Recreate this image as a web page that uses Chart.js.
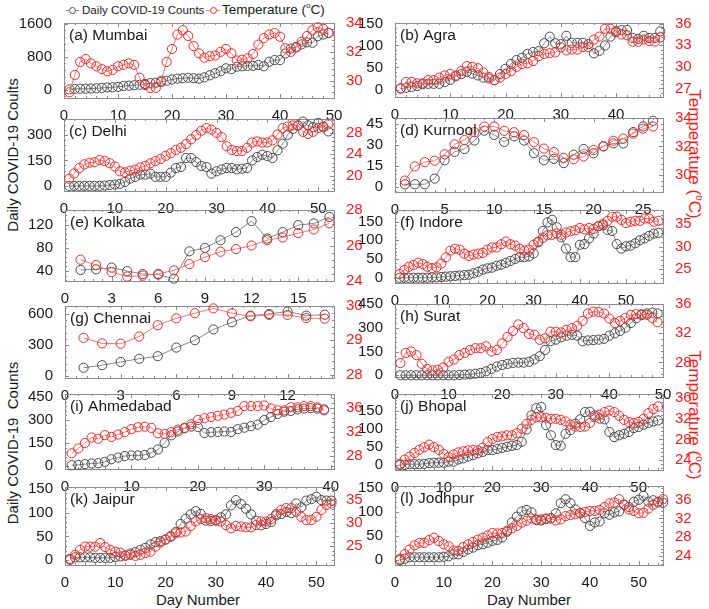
<!DOCTYPE html>
<html>
<head>
<meta charset="utf-8">
<script src="https://cdn.jsdelivr.net/npm/chart.js@4.4.1/dist/chart.umd.min.js"></script>
<style>
  body { margin: 0; background: #fff; }
  #page { position: relative; width: 709px; height: 609px; overflow: hidden;
          font-family: 'Liberation Sans', Arial, Helvetica, sans-serif; color: #1a1a1a; }
  #page canvas { position: absolute; }
  .txt { position: absolute; white-space: nowrap; line-height: 1; }
  .rot { transform: translate(-50%, -50%) rotate(-90deg); }
  .rotR { transform: translate(-50%, -50%) rotate(90deg); color: #ff1a1a; }
  .ctr { transform: translate(-50%, -50%); }
  sup { font-size: 0.6em; vertical-align: 0.7em; }
  .mline { position: absolute; height: 0; }
  .mdot { position: absolute; width: 5px; height: 5px; border-radius: 50%; background: #fff; }
</style>
</head>
<body>
<div id="page">
  <div class="mline" style="left:66px;top:10px;width:13px;border-top:1px solid #888"></div>
  <div class="mdot" style="left:69px;top:7px;border:1px solid #555"></div>
  <div class="txt" style="left:82px;top:4px;font-size:11.6px">Daily COVID-19 Counts</div>
  <div class="mline" style="left:206px;top:10px;width:14px;border-top:1px solid #f08080"></div>
  <div class="mdot" style="left:210px;top:7px;border:1px solid #ff2a2a"></div>
  <div class="txt" style="left:222px;top:2px;font-size:13.5px">Temperature (<sup>o</sup>C)</div>

  <div class="txt rot" style="left:12px;top:155px;font-size:15px">Daily COVID-19 Coults</div>
  <div class="txt rot" style="left:12px;top:443px;font-size:15px">Daily COVID-19&nbsp; Counts</div>
  <div class="txt rotR" style="left:695px;top:154px;font-size:17px">Temperature (<sup>o</sup>C)</div>
  <div class="txt rotR" style="left:695px;top:415px;font-size:17px">Temperature (<sup>o</sup>C)</div>
  <div class="txt ctr" style="left:198px;top:599px;font-size:15px">Day Number</div>
  <div class="txt ctr" style="left:529px;top:599px;font-size:15px">Day Number</div>
</div>
<script>
// ---- data (day 1..n) ----
const mumbaiCases = [10,20,25,25,30,35,45,55,60,70,90,100,110,120,140,160,170,190,220,250,270,280,290,280,270,300,350,400,450,520,500,560,570,580,580,600,570,680,720,720,880,1000,1040,1100,1150,1140,1300,1340,1380];
const mumbaiTemp = [29.2,30.4,31.3,31.5,31.2,31.0,30.8,30.65,30.75,31.0,31.1,31.2,31.1,30.2,29.7,29.5,29.5,30.0,31.3,32.2,33.2,33.5,33.1,32.4,31.9,31.6,31.7,31.75,32.0,32.2,31.9,31.4,31.45,31.55,31.85,32.5,32.95,33.2,33.3,33.05,32.25,32.0,32.3,32.7,33.1,33.5,33.7,33.6,33.3];

const agraCases = [2,4,6,8,12,13,13,13,17,22,30,35,40,36,32,27,25,21,35,47,58,67,72,81,85,87,105,120,105,103,122,106,106,106,103,82,88,100,120,130,135,135,117,115,122,117,117,132];
const agraTemp = [27.0,27.9,27.9,27.7,27.7,28.15,28.15,28.5,28.8,29.0,28.8,29.4,30.1,30.0,29.8,29.2,28.6,28.15,28.5,29.0,29.4,30.0,30.4,30.5,30.8,31.5,31.8,31.9,32.0,32.7,32.3,32.4,32.4,32.75,32.75,33.8,34.2,35.3,35.3,35.0,34.5,34.4,33.5,33.5,33.8,33.6,33.5,34.1];

const delhiCases = [0,0,0,0,0,0,0,2,5,8,12,23,43,53,66,66,72,53,53,53,78,105,111,164,164,140,117,111,72,86,97,105,105,97,101,105,150,170,183,175,164,209,248,300,335,355,378,355,345,370,345,320];
const delhiTemp = [19.4,20.4,21.4,22.1,22.4,22.5,22.9,22.7,22.3,21.7,20.8,20.6,20.9,21.1,21.5,21.8,22.3,22.7,23.1,23.7,24.2,24.8,25.2,25.9,26.8,27.6,28.4,28.9,28.6,28.0,27.2,25.5,24.8,24.6,24.6,25.2,26.2,26.4,26.2,26.2,26.6,27.7,28.9,29.2,29.4,29.4,28.2,27.8,28.2,28.9,29.2,29.6];

const kurnoolCases = [2,2,2,6,19,25,27,33,40,37,32,36,33,24,19,20,17,23,27,24,29,31,31,39,43,47];
const kurnoolTemp = [29.6,30.6,30.9,31.0,31.45,32.15,32.45,33.0,33.4,33.4,33.1,33.0,32.8,32.3,31.85,31.6,31.2,31.1,31.3,31.75,32.0,32.4,32.55,32.9,33.25,33.4];

const kolkataCases = [42,43,46,40,35,34,27,74,80,93,107,126,96,107,119,122,133];
const kolkataTemp = [25.2,24.9,24.5,24.25,24.3,24.4,24.6,24.95,25.35,25.65,25.8,26.0,26.3,26.45,26.7,26.9,27.25];

const indoreCases = [0,0,0,0,0,0,0,1,1,2,3,4,5,6,7,8,12,16,22,25,27,32,35,40,45,50,55,55,57,65,95,125,148,155,135,108,78,55,55,88,90,105,118,138,140,128,125,90,78,84,86,92,100,105,112,118,120];
const indoreTemp = [23.9,24.8,25.5,25.9,26.4,26.1,25.5,25.2,25.4,26.2,27.6,29.1,29.5,29.3,28.4,27.9,28.2,28.4,28.6,29.3,29.8,29.8,30.5,31.1,30.5,30.2,29.5,29.1,29.3,30.4,31.1,31.9,32.5,32.6,32.9,32.6,33.1,33.4,33.6,34.1,33.8,34.1,33.9,34.5,35.0,35.7,36.6,36.6,35.9,35.2,35.5,35.7,35.7,36.2,36.2,35.5,35.7];

const chennaiCases = [80,105,136,167,192,275,346,451,520,584,600,624,584,593];
const chennaiTemp = [29.07,28.91,28.9,29.11,29.44,29.64,29.79,29.93,29.79,29.7,29.74,29.74,29.65,29.63];

const suratCases = [0,0,0,0,0,0,0,0,0,0,0,2,4,6,10,15,25,40,55,65,72,78,80,80,85,100,120,160,215,225,240,250,255,250,215,220,222,225,230,250,265,280,300,330,360,380,390,395,390];
const suratTemp = [27.9,29.3,29.5,29.0,27.8,27.1,26.9,27.0,27.3,28.1,28.4,29.0,29.3,29.7,29.95,29.95,30.2,29.5,29.7,30.6,31.5,32.3,33.2,32.7,31.9,31.8,31.1,31.3,32.2,32.2,32.1,32.45,32.7,33.0,33.7,34.7,34.95,34.9,34.7,34.0,33.4,33.7,34.1,34.5,34.6,34.6,34.5,34.1,33.5];

const ahmedabadCases = [4,6,11,15,17,26,43,54,64,68,68,71,86,107,150,200,225,246,257,255,215,220,222,225,222,240,250,260,270,300,320,340,355,360,370,375,378,375,370];
const ahmedabadTemp = [28.5,29.3,30.2,31.1,30.9,31.5,31.2,31.6,32.0,32.5,32.8,32.9,32.7,31.8,31.7,32.0,32.4,32.7,33.3,34.0,34.3,34.5,34.7,34.9,35.2,35.5,36.3,36.3,36.3,36.4,35.9,35.6,35.6,36.1,36.1,36.3,36.3,36.1,35.6];

const bhopalCases = [0,0,2,2,2,3,5,6,6,6,9,9,15,18,23,27,32,36,41,41,44,47,50,53,55,64,98,137,157,160,110,82,55,53,86,96,114,126,146,147,137,128,126,91,77,82,86,91,102,105,111,116,120,123];
const bhopalTemp = [23.3,24.1,24.7,25.4,26.0,26.5,27.0,26.5,26.0,25.2,24.6,25.1,25.5,25.7,25.9,26.0,25.9,26.4,27.5,28.1,28.5,28.6,28.8,28.8,29.2,30.1,31.0,31.8,32.3,32.3,32.2,32.0,32.0,31.8,31.5,30.9,30.5,30.4,30.5,31.2,32.3,32.8,33.3,33.6,33.3,32.6,31.8,31.4,31.2,31.4,32.0,33.1,33.9,34.4];

const jaipurCases = [3,6,6,6,6,5,5,5,5,7,8,10,14,17,22,26,33,38,40,43,49,59,76,87,96,103,97,83,82,83,90,96,115,126,118,108,96,83,73,76,80,94,97,101,99,119,111,125,128,133,126,125,125];
const jaipurTemp = [22.0,23.1,24.2,24.9,24.9,24.9,25.7,24.8,24.2,23.8,23.6,22.9,23.1,22.9,23.1,23.5,23.8,24.9,25.8,26.5,27.2,27.8,28.0,28.2,29.4,30.4,30.9,31.1,30.9,30.7,30.4,29.6,28.9,29.4,29.3,29.1,29.1,29.6,30.4,30.4,30.9,32.0,32.9,33.3,33.3,32.5,31.4,30.7,30.7,31.4,32.9,34.0,34.3];

const jodhpurCases = [0,3,6,6,6,6,6,6,6,7,8,12,12,17,22,26,31,33,36,40,42,47,59,78,90,101,104,99,83,82,85,87,97,118,126,118,105,97,87,71,78,80,97,94,99,101,115,110,121,125,133,121,124,121,119];
const jodhpurTemp = [23.4,24.4,25.4,26.3,26.8,26.8,27.4,27.9,27.2,26.5,26.1,25.2,25.1,25.9,26.5,27.0,27.5,27.9,28.4,28.9,28.8,28.9,29.4,29.9,30.4,31.1,31.5,32.0,31.8,31.8,32.0,32.0,31.6,31.8,32.5,32.7,32.9,33.2,33.4,33.6,33.6,33.8,34.4,35.2,35.4,36.1,34.9,33.9,33.6,33.1,33.2,34.1,34.9,35.4,36.1];

// ---- tick labels ----
const dayTicks10 = [0,10,20,30,40,50];
const dayTicks40 = [0,10,20,30,40];
const dayTicks5 = [0,5,10,15,20,25];
const dayTicks3 = [0,3,6,9,12,15];
const dayTicks3s = [0,3,6,9,12];

const mumbaiCaseTicks = [0,800,1600];   const mumbaiTempTicks = [30,32,34];
const agraCaseTicks = [0,50,100,150];   const agraTempTicks = [27,30,33,36];
const delhiCaseTicks = [0,150,300];     const delhiTempTicks = [20,24,28];
const kurnoolCaseTicks = [0,15,30,45];  const kurnoolTempTicks = [30,32,34];
const kolkataCaseTicks = [40,80,120];   const kolkataTempTicks = [24,26,28];
const indoreCaseTicks = [0,50,100,150]; const indoreTempTicks = [25,30,35];
const chennaiCaseTicks = [0,300,600];   const chennaiTempTicks = [28,29,30];
const suratCaseTicks = [0,150,300,450]; const suratTempTicks = [28,32,36];
const ahmedabadCaseTicks = [0,150,300,450]; const ahmedabadTempTicks = [28,32,36];
const bhopalCaseTicks = [0,50,100,150]; const bhopalTempTicks = [24,28,32,36];
const jaipurCaseTicks = [0,50,100,150]; const jaipurTempTicks = [25,30,35];
const jodhpurCaseTicks = [0,50,100,150]; const jodhpurTempTicks = [24,28,32,36];

// ---- panel layout: plot box [left, top, right, bottom] and axis ranges ----
const panels = [
  { title: '(a) Mumbai', cases: mumbaiCases, temp: mumbaiTemp, box: [64, 22, 334, 98],
    x: [0, 50], xt: dayTicks10, yl: [-200, 1620], ylt: mumbaiCaseTicks, yr: [28.8, 34], yrt: mumbaiTempTicks },
  { title: '(b) Agra', cases: agraCases, temp: agraTemp, box: [395, 22, 663, 97],
    x: [0, 48.5], xt: dayTicks40, yl: [-17, 151], ylt: agraCaseTicks, yr: [25.8, 36.1], yrt: agraTempTicks },
  { title: '(c) Delhi', cases: delhiCases, temp: delhiTemp, box: [64, 118, 334, 191],
    x: [0, 53.1], xt: dayTicks10, yl: [-30, 393], ylt: delhiCaseTicks, yr: [17.1, 30.6], yrt: delhiTempTicks },
  { title: '(d) Kurnool', cases: kurnoolCases, temp: kurnoolTemp, box: [395, 117, 663, 192],
    x: [0, 27], xt: dayTicks5, yl: [-3.5, 49], ylt: kurnoolCaseTicks, yr: [28.8, 34], yrt: kurnoolTempTicks },
  { title: '(e) Kolkata', cases: kolkataCases, temp: kolkataTemp, box: [65, 209, 334, 281],
    x: [0, 17.3], xt: dayTicks3, yl: [23, 145], ylt: kolkataCaseTicks, yr: [24, 28], yrt: kolkataTempTicks },
  { title: '(f) Indore', cases: indoreCases, temp: indoreTemp, box: [395, 209, 663, 283],
    x: [0, 58], xt: dayTicks10, yl: [-14, 181], ylt: indoreCaseTicks, yr: [21.9, 38.1], yrt: indoreTempTicks },
  { title: '(g) Chennai', cases: chennaiCases, temp: chennaiTemp, box: [65, 305, 334, 378],
    x: [0, 14.5], xt: dayTicks3s, yl: [-19, 677], ylt: chennaiCaseTicks, yr: [27.9, 30], yrt: chennaiTempTicks },
  { title: '(h) Surat', cases: suratCases, temp: suratTemp, box: [395, 303, 663, 377],
    x: [0, 50], xt: dayTicks10, yl: [-11, 450], ylt: suratCaseTicks, yr: [26, 36], yrt: suratTempTicks },
  { title: '(i) Ahmedabad', cases: ahmedabadCases, temp: ahmedabadTemp, box: [65, 393, 334, 469],
    x: [0, 40.5], xt: dayTicks40, yl: [-21, 471], ylt: ahmedabadCaseTicks, yr: [25.9, 38.3], yrt: ahmedabadTempTicks },
  { title: '(j) Bhopal', cases: bhopalCases, temp: bhopalTemp, box: [395, 393, 663, 470],
    x: [0, 55], xt: dayTicks10, yl: [-14, 196], ylt: bhopalCaseTicks, yr: [22.1, 36.8], yrt: bhopalTempTicks },
  { title: '(k) Jaipur', cases: jaipurCases, temp: jaipurTemp, box: [65, 486, 334, 565],
    x: [0, 53.5], xt: dayTicks10, yl: [-10, 153.5], ylt: jaipurCaseTicks, yr: [20.9, 37.9], yrt: jaipurTempTicks },
  { title: '(l) Jodhpur', cases: jodhpurCases, temp: jodhpurTemp, box: [395, 485, 663, 565],
    x: [0, 55], xt: dayTicks10, yl: [-10, 153.5], ylt: jodhpurCaseTicks, yr: [22.1, 38.9], yrt: jodhpurTempTicks }
];

const FONT = "'Liberation Sans', Arial, Helvetica, sans-serif";
const DOT_GRAY = '#4a4a4a', LINE_GRAY = '#8a8a8a';
const DOT_RED = '#ff2626', LINE_RED = '#f07a7a';
const FRAME = '#8c8c8c';
const PAD_L = 60, PAD_R = 40, PAD_T = 12, PAD_B = 24;

function useTicks(vals) {
  return scale => { scale.ticks = vals.map(v => ({ value: v })); };
}
const plain = v => String(v);

// frame with inward tick marks, plus the panel name
function panelDecor(title) {
  return {
    id: 'panelDecor',
    beforeDatasetsDraw(chart) {
      const a = chart.chartArea, ctx = chart.ctx;
      const sx = chart.scales.x, sl = chart.scales.yl, sr = chart.scales.yr;
      ctx.save();
      ctx.strokeStyle = FRAME;
      ctx.lineWidth = 1;
      ctx.strokeRect(Math.round(a.left) + 0.5, Math.round(a.top) + 0.5,
                     Math.round(a.right - a.left), Math.round(a.bottom - a.top));
      const marks = (scale, vals, draw) => {
        const step = vals[1] - vals[0];
        for (let v = vals[0] - step; v <= scale.max + 1e-9; v += step / 5) {
          if (v < scale.min - 1e-9) continue;
          const major = Math.abs((v - vals[0]) / step - Math.round((v - vals[0]) / step)) < 1e-6;
          draw(Math.round(scale.getPixelForValue(v)) + 0.5, major ? 4 : 2);
        }
      };
      ctx.beginPath();
      marks(sx, sx.ticks.map(t => t.value), (px, len) => {
        ctx.moveTo(px, a.bottom); ctx.lineTo(px, a.bottom - len);
        ctx.moveTo(px, a.top); ctx.lineTo(px, a.top + len);
      });
      marks(sl, sl.ticks.map(t => t.value), (py, len) => {
        ctx.moveTo(a.left, py); ctx.lineTo(a.left + len, py);
      });
      marks(sr, sr.ticks.map(t => t.value), (py, len) => {
        ctx.moveTo(a.right, py); ctx.lineTo(a.right - len, py);
      });
      ctx.stroke();
      ctx.restore();
    },
    afterDatasetsDraw(chart) {
      const a = chart.chartArea, ctx = chart.ctx;
      ctx.save();
      ctx.font = '15.5px ' + FONT;
      ctx.fillStyle = '#1a1a1a';
      ctx.textBaseline = 'middle';
      ctx.fillText(title, a.left + 5, a.top + 13);
      ctx.restore();
    }
  };
}

const page = document.getElementById('page');

panels.forEach(p => {
  const [l, t, r, b] = p.box;
  const w = r - l + PAD_L + PAD_R;
  const h = b - t + PAD_T + PAD_B;
  const cv = document.createElement('canvas');
  cv.width = w; cv.height = h;
  cv.style.left = (l - PAD_L) + 'px';
  cv.style.top = (t - PAD_T) + 'px';
  cv.style.width = w + 'px';
  cv.style.height = h + 'px';
  page.appendChild(cv);

  const tickFont = { family: FONT, size: 15 };

  new Chart(cv, {
    type: 'line',
    data: {
      datasets: [
        {
          label: 'Temperature (°C)',
          data: p.temp.map((v, i) => ({ x: i + 1, y: v })),
          yAxisID: 'yr',
          borderColor: LINE_RED,
          borderWidth: 1,
          pointBorderColor: DOT_RED,
          pointBackgroundColor: 'rgba(255,255,255,0)',
          pointRadius: 4.6,
          pointBorderWidth: 1,
          tension: 0,
          clip: false
        },
        {
          label: 'Daily COVID-19 Counts',
          data: p.cases.map((v, i) => ({ x: i + 1, y: v })),
          yAxisID: 'yl',
          borderColor: LINE_GRAY,
          borderWidth: 1,
          pointBorderColor: DOT_GRAY,
          pointBackgroundColor: 'rgba(255,255,255,0)',
          pointRadius: 4.6,
          pointBorderWidth: 1,
          tension: 0,
          clip: false
        }
      ]
    },
    options: {
      responsive: false,
      animation: false,
      devicePixelRatio: 1,
      layout: { padding: { top: PAD_T, left: 0, right: 0, bottom: 0 } },
      plugins: { legend: { display: false }, tooltip: { enabled: false } },
      scales: {
        x: {
          type: 'linear', position: 'bottom', min: p.x[0], max: p.x[1],
          afterBuildTicks: useTicks(p.xt),
          afterFit: s => { s.height = PAD_B; },
          grid: { display: false }, border: { display: false },
          ticks: { font: tickFont, color: '#1a1a1a', padding: 1, maxRotation: 0, autoSkip: false, callback: plain }
        },
        yl: {
          type: 'linear', position: 'left', min: p.yl[0], max: p.yl[1],
          afterBuildTicks: useTicks(p.ylt),
          afterFit: s => { s.width = PAD_L; },
          grid: { display: false }, border: { display: false },
          ticks: { font: tickFont, color: '#1a1a1a', padding: 4, autoSkip: false, callback: plain }
        },
        yr: {
          type: 'linear', position: 'right', min: p.yr[0], max: p.yr[1],
          afterBuildTicks: useTicks(p.yrt),
          afterFit: s => { s.width = PAD_R; },
          grid: { display: false }, border: { display: false },
          ticks: { font: tickFont, color: '#ff1a1a', padding: 4, autoSkip: false, callback: plain }
        }
      }
    },
    plugins: [panelDecor(p.title)]
  });
});
</script>
</body>
</html>
